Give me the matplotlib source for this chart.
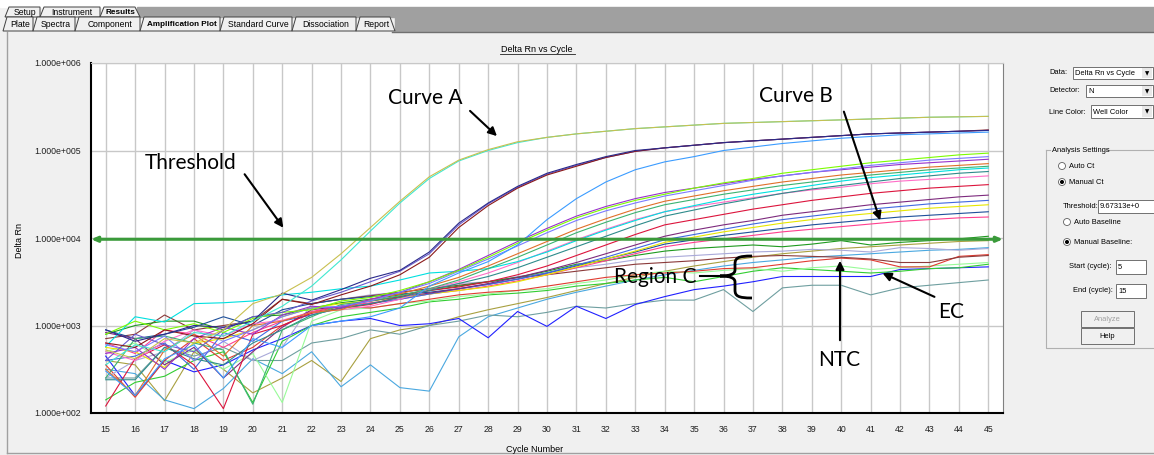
import numpy as np
import matplotlib.pyplot as plt
from matplotlib.patches import Rectangle, Polygon, PathPatch, Ellipse, FancyArrowPatch
from matplotlib.path import Path
from matplotlib.ticker import FixedLocator, FuncFormatter, NullLocator

W, H = 1154, 455

cycles = list(range(15, 46))
threshold = 9.67313e3

# log10(Delta Rn) per well, cycles 15..45
curve_a1 = [2.72, 2.62, 2.85, 2.80, 2.95, 3.25, 3.36, 3.55, 3.82, 4.12, 4.42, 4.70, 4.89, 5.01, 5.10, 5.15,
            5.19, 5.22, 5.25, 5.27, 5.29, 5.31, 5.32, 5.33, 5.34, 5.35, 5.36, 5.37, 5.38, 5.385, 5.39]
curve_a2 = [2.55, 2.78, 2.70, 2.92, 2.88, 3.05, 3.22, 3.45, 3.75, 4.08, 4.40, 4.68, 4.88, 5.00, 5.09, 5.15,
            5.19, 5.22, 5.25, 5.27, 5.29, 5.31, 5.32, 5.33, 5.34, 5.35, 5.36, 5.37, 5.38, 5.385, 5.39]
high_1 = [2.95, 2.82, 2.90, 3.00, 2.98, 3.05, 3.37, 3.29, 3.41, 3.54, 3.63, 3.84, 4.17, 4.40, 4.59, 4.74,
          4.84, 4.93, 5.00, 5.03, 5.06, 5.09, 5.11, 5.13, 5.15, 5.17, 5.19, 5.20, 5.21, 5.22, 5.23]
high_2 = [2.80, 2.75, 2.95, 2.88, 2.85, 3.02, 3.30, 3.24, 3.35, 3.45, 3.58, 3.78, 4.12, 4.37, 4.57, 4.72,
          4.82, 4.92, 4.99, 5.03, 5.06, 5.09, 5.11, 5.13, 5.15, 5.17, 5.19, 5.20, 5.21, 5.22, 5.235]
high_3 = [2.60, 2.90, 2.78, 2.70, 2.95, 3.10, 3.15, 3.28, 3.38, 3.50, 3.62, 3.82, 4.15, 4.39, 4.58, 4.73,
          4.83, 4.92, 4.99, 5.03, 5.06, 5.09, 5.11, 5.13, 5.15, 5.17, 5.19, 5.20, 5.21, 5.22, 5.23]
high_4 = [2.48, 2.20, 2.62, 2.78, 2.40, 2.85, 2.75, 3.00, 3.05, 3.10, 3.20, 3.45, 3.60, 3.73, 3.92, 4.21,
          4.45, 4.64, 4.78, 4.87, 4.93, 5.00, 5.04, 5.08, 5.11, 5.14, 5.16, 5.18, 5.19, 5.20, 5.21]

mid_1 = [2.90, 3.05, 2.95, 3.02, 2.92, 3.08, 3.15, 3.18, 3.28, 3.32, 3.40, 3.50, 3.63, 3.78, 3.94, 4.09,
         4.23, 4.34, 4.43, 4.50, 4.57, 4.63, 4.68, 4.74, 4.78, 4.82, 4.86, 4.89, 4.92, 4.95, 4.97]
mid_2 = [2.78, 2.70, 2.88, 2.60, 2.82, 2.95, 3.10, 3.20, 3.22, 3.28, 3.38, 3.48, 3.62, 3.76, 3.91, 4.06,
         4.20, 4.31, 4.40, 4.48, 4.54, 4.60, 4.66, 4.71, 4.75, 4.79, 4.83, 4.86, 4.89, 4.91, 4.93]
mid_3 = [2.68, 2.75, 2.50, 2.85, 2.98, 2.90, 3.12, 3.22, 3.20, 3.30, 3.38, 3.50, 3.64, 3.80, 3.96, 4.11,
         4.25, 4.36, 4.45, 4.52, 4.57, 4.62, 4.67, 4.71, 4.75, 4.78, 4.81, 4.84, 4.86, 4.88, 4.90]
mid_4 = [2.50, 2.20, 2.72, 2.90, 2.65, 3.00, 3.05, 3.15, 3.18, 3.30, 3.36, 3.45, 3.55, 3.68, 3.82, 3.96,
         4.10, 4.22, 4.33, 4.42, 4.48, 4.54, 4.59, 4.64, 4.68, 4.72, 4.75, 4.78, 4.81, 4.83, 4.85]
mid_5 = [2.40, 2.85, 2.88, 2.80, 2.72, 2.10, 2.95, 3.10, 3.24, 3.28, 3.34, 3.42, 3.52, 3.65, 3.78, 3.92,
         4.06, 4.18, 4.29, 4.38, 4.44, 4.50, 4.55, 4.60, 4.64, 4.68, 4.72, 4.75, 4.78, 4.80, 4.82]
mid_6 = [2.76, 3.10, 3.04, 3.25, 3.26, 3.28, 3.35, 3.38, 3.42, 3.45, 3.52, 3.60, 3.62, 3.65, 3.73, 3.84,
         3.97, 4.09, 4.20, 4.30, 4.37, 4.44, 4.50, 4.55, 4.60, 4.65, 4.69, 4.72, 4.75, 4.78, 4.80]
mid_7 = [2.38, 2.38, 2.75, 2.62, 2.55, 2.80, 2.95, 3.12, 3.20, 3.25, 3.32, 3.40, 3.48, 3.56, 3.66, 3.78,
         3.90, 4.02, 4.14, 4.25, 4.32, 4.39, 4.45, 4.51, 4.56, 4.60, 4.64, 4.68, 4.71, 4.74, 4.76]
mid_8 = [2.70, 2.60, 2.82, 2.95, 2.88, 3.02, 3.06, 3.15, 3.18, 3.22, 3.30, 3.42, 3.50, 3.60, 3.72, 3.85,
         3.98, 4.10, 4.21, 4.30, 4.36, 4.41, 4.46, 4.51, 4.55, 4.58, 4.62, 4.65, 4.67, 4.69, 4.71]
mid_9 = [2.08, 2.62, 2.78, 2.55, 2.05, 2.90, 3.00, 3.14, 3.20, 3.24, 3.33, 3.40, 3.44, 3.50, 3.58, 3.68,
         3.80, 3.92, 4.04, 4.15, 4.21, 4.27, 4.33, 4.38, 4.43, 4.47, 4.51, 4.54, 4.57, 4.59, 4.61]
mid_10 = [2.92, 2.85, 2.55, 2.75, 2.40, 2.70, 2.98, 3.18, 3.22, 3.28, 3.33, 3.37, 3.42, 3.48, 3.55, 3.63,
          3.72, 3.82, 3.92, 4.02, 4.09, 4.15, 4.20, 4.26, 4.30, 4.34, 4.38, 4.41, 4.44, 4.47, 4.49]
mid_11 = [2.60, 2.65, 2.80, 2.50, 2.92, 2.82, 3.05, 3.12, 3.20, 3.25, 3.30, 3.36, 3.42, 3.47, 3.53, 3.60,
          3.69, 3.78, 3.88, 3.98, 4.04, 4.10, 4.16, 4.21, 4.25, 4.29, 4.33, 4.36, 4.39, 4.41, 4.43]
mid_12 = [2.75, 2.70, 2.52, 2.80, 2.85, 2.95, 3.10, 3.20, 3.25, 3.28, 3.32, 3.36, 3.40, 3.44, 3.50, 3.58,
          3.67, 3.76, 3.85, 3.95, 4.01, 4.07, 4.12, 4.17, 4.21, 4.25, 4.28, 4.31, 4.34, 4.36, 4.38]
mid_13 = [2.95, 2.85, 2.90, 2.98, 3.10, 3.00, 3.18, 3.25, 3.30, 3.33, 3.36, 3.38, 3.42, 3.47, 3.53, 3.60,
          3.68, 3.76, 3.84, 3.93, 3.98, 4.03, 4.07, 4.11, 4.15, 4.18, 4.21, 4.24, 4.26, 4.28, 4.30]
curve_b = [2.80, 2.68, 2.95, 2.90, 2.75, 2.92, 3.05, 3.16, 3.22, 3.26, 3.30, 3.36, 3.40, 3.45, 3.51, 3.58,
           3.66, 3.74, 3.82, 3.90, 3.95, 3.99, 4.03, 4.07, 4.10, 4.13, 4.16, 4.19, 4.21, 4.23, 4.24]

low_1 = [2.90, 3.00, 3.05, 3.05, 2.95, 3.10, 3.12, 3.20, 3.26, 3.30, 3.35, 3.40, 3.45, 3.50, 3.55, 3.62,
         3.70, 3.74, 3.80, 3.85, 3.88, 3.90, 3.92, 3.90, 3.93, 3.97, 3.92, 3.95, 3.97, 3.99, 4.02]
ntc = [2.85, 2.90, 3.12, 2.95, 3.00, 3.05, 3.30, 3.25, 3.30, 3.34, 3.38, 3.42, 3.46, 3.50, 3.55, 3.58,
       3.62, 3.66, 3.70, 3.72, 3.74, 3.77, 3.79, 3.80, 3.79, 3.78, 3.76, 3.72, 3.72, 3.78, 3.80]
low_2 = [2.40, 2.60, 2.70, 2.95, 2.82, 2.60, 2.75, 3.25, 3.30, 3.35, 3.38, 3.42, 3.48, 3.50, 3.56, 3.60,
         3.66, 3.70, 3.75, 3.78, 3.80, 3.82, 3.84, 3.85, 3.87, 3.86, 3.84, 3.89, 3.88, 3.86, 3.88]
low_3 = [2.55, 2.18, 2.60, 2.85, 2.60, 2.75, 3.00, 3.15, 3.22, 3.20, 3.25, 3.30, 3.35, 3.38, 3.40, 3.45,
         3.50, 3.55, 3.58, 3.60, 3.62, 3.65, 3.66, 3.70, 3.74, 3.77, 3.75, 3.67, 3.67, 3.79, 3.81]
low_4 = [2.70, 2.80, 2.58, 2.72, 2.50, 2.68, 2.12, 3.05, 3.18, 3.20, 3.25, 3.28, 3.33, 3.36, 3.40, 3.42,
         3.48, 3.52, 3.58, 3.62, 3.60, 3.63, 3.65, 3.62, 3.66, 3.68, 3.64, 3.66, 3.68, 3.70, 3.72]
ec = [2.15, 2.35, 2.42, 2.60, 2.70, 2.12, 2.82, 3.00, 3.10, 3.15, 3.20, 3.27, 3.30, 3.35, 3.37, 3.40,
      3.45, 3.48, 3.52, 3.55, 3.50, 3.56, 3.62, 3.66, 3.64, 3.62, 3.60, 3.62, 3.65, 3.66, 3.70]
low_5 = [2.65, 2.20, 2.60, 2.47, 2.55, 2.72, 2.85, 3.00, 3.05, 3.08, 3.00, 3.02, 3.08, 2.86, 3.16, 2.99,
         3.22, 3.08, 3.24, 3.33, 3.41, 3.45, 3.50, 3.56, 3.56, 3.56, 3.56, 3.64, 3.65, 3.66, 3.67]
low_6 = [2.40, 2.40, 2.75, 2.65, 2.75, 2.60, 2.60, 2.80, 2.85, 2.95, 2.90, 3.00, 3.05, 3.12, 3.10, 3.15,
         3.22, 3.20, 3.25, 3.29, 3.29, 3.41, 3.16, 3.43, 3.46, 3.46, 3.35, 3.43, 3.46, 3.49, 3.52]
low_7 = [2.50, 2.45, 2.15, 2.05, 2.28, 2.62, 2.45, 2.70, 2.30, 2.55, 2.29, 2.25, 2.87, 3.10, 3.20, 3.30,
         3.38, 3.45, 3.52, 3.58, 3.63, 3.68, 3.72, 3.75, 3.78, 3.80, 3.82, 3.84, 3.86, 3.87, 3.89]
low_8 = [2.60, 2.55, 2.14, 2.70, 2.50, 2.23, 2.40, 2.60, 2.36, 2.85, 2.95, 3.00, 3.10, 3.18, 3.25, 3.32,
         3.40, 3.48, 3.55, 3.62, 3.68, 3.73, 3.78, 3.82, 3.85, 3.88, 3.90, 3.92, 3.94, 3.96, 3.97]

wells = [
    (low_8, '#a8a040'), (low_7, '#4aa8e0'), (low_6, '#6f9fa0'), (low_5, '#2020ff'),
    (ec, '#32cd32'), (low_4, '#98fb98'), (low_3, '#e03c31'), (low_2, '#a9a9d9'),
    (ntc, '#8b3a3a'), (low_1, '#1f9a1f'),
    (curve_b, '#ff3f8f'), (mid_13, '#1e4f9a'), (mid_12, '#e6e600'), (mid_11, '#4169e1'),
    (mid_10, '#7d2a7d'), (mid_9, '#dc143c'), (mid_8, '#ff6ec7'), (mid_7, '#2e8b8b'),
    (mid_6, '#00e0e0'), (mid_5, '#3cb371'), (mid_4, '#e0702a'), (mid_3, '#9932cc'),
    (mid_2, '#7b7bff'), (mid_1, '#7cfc00'),
    (high_4, '#3b9cff'), (high_3, '#6a5acd'), (high_2, '#8b1a1a'), (high_1, '#2a2a8a'),
    (curve_a2, '#40e8d0'), (curve_a1, '#c8c050'),
]


def fx(x):
    return x / W


def fy(y):
    return 1 - y / H


ui = 'Liberation Sans'
note = 'Lato'
side = 5.4

fig = plt.figure(figsize=(W / 100, H / 100), dpi=100, facecolor='#f0f0f0')

# tab strip
fig.patches.append(Rectangle((0, fy(7)), 1, 7 / H, transform=fig.transFigure, color='white', zorder=0))
fig.patches.append(Rectangle((fx(137), fy(17)), 1, 10 / H, transform=fig.transFigure,
                             color='#a0a0a0', zorder=1))
fig.patches.append(Rectangle((fx(395), fy(31)), 1, 14 / H, transform=fig.transFigure,
                             color='#a0a0a0', zorder=1))
tabs_top = [('Setup', 5, 40, False), ('Instrument', 40, 100, False), ('Results', 100, 137, True)]
tabs_bottom = [('Plate', 3, 33, False), ('Spectra', 33, 75, False), ('Component', 75, 140, False),
               ('Amplification Plot', 140, 220, True), ('Standard Curve', 220, 292, False),
               ('Dissociation', 292, 356, False), ('Report', 356, 392, False)]
for row, (y0, y1) in [(tabs_top, (7, 17)), (tabs_bottom, (17, 31))]:
    for i, (lab, x0, x1, bold) in enumerate(row):
        pts = [(x0, y1), (x0 + 4, y0), (x1, y0), (x1, y1)]
        if i == len(row) - 1:
            pts = [(x0, y1), (x0 + 4, y0), (x1 - 2, y0), (x1 + 3, y1)]
        poly = Polygon([(fx(a), fy(b)) for a, b in pts], closed=True, transform=fig.transFigure,
                       facecolor='#f0f0f0', edgecolor='#404040', lw=0.7, zorder=2)
        fig.patches.append(poly)
        fig.text(fx((x0 + x1) / 2 + 2), fy((y0 + y1) / 2 + 0.5), lab, ha='center', va='center',
                 fontsize=5.9 if bold else 6.2, family=ui, fontweight='bold' if bold else 'normal',
                 zorder=3)

# panel frame
fig.add_artist(plt.Line2D([fx(7), fx(7)], [fy(32), fy(453)], color='#a0a0a0', lw=1))
fig.add_artist(plt.Line2D([fx(7), 1], [fy(453), fy(453)], color='#a0a0a0', lw=1))
fig.add_artist(plt.Line2D([fx(392), 1], [fy(32), fy(32)], color='#707070', lw=1))

# plot
ax = fig.add_axes([fx(91), fy(413), (1003 - 91) / W, (413 - 63) / H])
ax.set_facecolor('white')
for vals, col in wells:
    ax.plot(cycles, [10 ** v for v in vals], color=col, lw=0.8)

ax.set_yscale('log')
ax.set_xlim(14.5, 45.5)
ax.set_ylim(1e2, 1e6)
ax.xaxis.set_major_locator(FixedLocator(cycles))
ax.yaxis.set_major_locator(FixedLocator([1e2, 1e3, 1e4, 1e5, 1e6]))
ax.yaxis.set_minor_locator(NullLocator())


def sci(v, pos):
    e = int(round(np.log10(v)))
    return '%.3fe+%03d' % (v / 10 ** e, e)


ax.yaxis.set_major_formatter(FuncFormatter(sci))
ax.grid(True, color='#c8c8c8', lw=1)
ax.set_axisbelow(True)
ax.tick_params(length=0, labelsize=6.3, colors='#202020', pad=7)
ax.tick_params(axis='x', pad=9)
for lab in ax.get_xticklabels() + ax.get_yticklabels():
    lab.set_family(ui)
ax.spines['left'].set_linewidth(1.5)
ax.spines['bottom'].set_linewidth(1.5)
ax.spines['top'].set_color('#c8c8c8')
ax.spines['right'].set_color('#808080')

ax.annotate('', xy=(1.0, threshold), xytext=(0.0, threshold), xycoords=('axes fraction', 'data'),
            arrowprops=dict(arrowstyle='<|-|>,head_length=0.35,head_width=0.15', color='#3a9a3a',
                            lw=2.2, shrinkA=0, shrinkB=0), zorder=5)

fig.text(fx(537), fy(52), 'Delta Rn vs Cycle', ha='center', va='baseline', fontsize=6.5, family=ui)
fig.add_artist(plt.Line2D([fx(500), fx(575)], [fy(54), fy(54)], color='#202020', lw=0.6))
fig.text(fx(20), fy(240), 'Delta Rn', rotation=90, ha='center', va='center', fontsize=6.5, family=ui)
fig.text(fx(535), fy(449), 'Cycle Number', ha='center', va='center', fontsize=6.5, family=ui)

# annotations
notes = [('Threshold', 191, 169), ('Curve A', 425, 104), ('Curve B', 796, 102),
         ('Region C', 655, 283), ('NTC', 839, 366), ('EC', 951, 318)]
for s, x, y in notes:
    fig.text(fx(x), fy(y), s, ha='center', va='baseline', fontsize=15, family=note, zorder=10)

arrows = [((243, 172), (285, 230)), ((468, 109), (499, 138)), ((843, 109), (881, 223)),
          ((840, 343), (840, 258)), ((937, 298), (880, 272))]
for (xa, ya), (xb, yb) in arrows:
    fig.add_artist(FancyArrowPatch(
        (fx(xa), fy(ya)), (fx(xb), fy(yb)), transform=fig.transFigure,
        arrowstyle='-|>,head_length=5,head_width=2.5', color='black', lw=1.5, zorder=10))

fig.add_artist(plt.Line2D([fx(700), fx(720)], [fy(276), fy(276)], color='black', lw=1.5, zorder=10))
brace = [(752, 256), (738, 256), (735, 258), (735, 264), (735, 270), (735, 274), (730, 276), (720, 276),
         (730, 276), (735, 278), (735, 282), (735, 290), (735, 296), (738, 298), (752, 298)]
codes = [Path.MOVETO, Path.CURVE4, Path.CURVE4, Path.CURVE4, Path.LINETO, Path.CURVE4, Path.CURVE4,
         Path.CURVE4, Path.CURVE4, Path.CURVE4, Path.CURVE4, Path.LINETO, Path.CURVE4, Path.CURVE4,
         Path.CURVE4]
fig.patches.append(PathPatch(Path([(fx(a), fy(b)) for a, b in brace], codes), transform=fig.transFigure,
                             facecolor='none', edgecolor='black', lw=2, zorder=10))

# side panel


def box(x0, y0, x1, y1, text='', arrow=False, fc='white', tc='black', ha='left'):
    fig.patches.append(Rectangle((fx(x0), fy(y1)), (x1 - x0) / W, (y1 - y0) / H,
                                 transform=fig.transFigure, facecolor=fc, edgecolor='#707070', lw=0.7))
    if text:
        tx = x0 + 2 if ha == 'left' else (x0 + x1) / 2
        fig.text(fx(tx), fy((y0 + y1) / 2 + 0.5), text, ha=ha, va='center', fontsize=side, family=ui,
                 color=tc)
    if arrow:
        fig.patches.append(Rectangle((fx(x1 - 11), fy(y1 - 1)), 10 / W, (y1 - y0 - 2) / H,
                                     transform=fig.transFigure, facecolor='#e8e8e8', edgecolor='none'))
        fig.text(fx(x1 - 6), fy((y0 + y1) / 2 + 0.5), '\u25bc', ha='center', va='center', fontsize=4,
                 family='DejaVu Sans')


fig.text(fx(1049), fy(73), 'Data:', va='center', fontsize=side, family=ui)
box(1073, 67, 1153, 79, 'Delta Rn vs Cycle', arrow=True)
fig.text(fx(1049), fy(91), 'Detector:', va='center', fontsize=side, family=ui)
box(1086, 85, 1153, 97, 'N', arrow=True)
fig.text(fx(1049), fy(112), 'Line Color:', va='center', fontsize=side, family=ui)
box(1091, 105, 1153, 118, 'Well Color', arrow=True)

fig.add_artist(plt.Line2D([fx(1046), fx(1046), 1], [fy(150), fy(348), fy(348)], color='#b0b0b0', lw=0.8))
fig.add_artist(plt.Line2D([fx(1046), fx(1050)], [fy(150), fy(150)], color='#b0b0b0', lw=0.8))
fig.add_artist(plt.Line2D([fx(1106), 1], [fy(150), fy(150)], color='#b0b0b0', lw=0.8))
fig.text(fx(1052), fy(150), 'Analysis Settings', va='center', fontsize=side, family=ui)

radios = [('Auto Ct', 1062, 166, False), ('Manual Ct', 1062, 182, True),
          ('Auto Baseline', 1067, 222, False), ('Manual Baseline:', 1067, 242, True)]
for lab, x, y, on in radios:
    fig.add_artist(Ellipse((fx(x), fy(y)), 7 / W, 7 / H, transform=fig.transFigure, facecolor='white',
                           edgecolor='#606060', lw=0.6))
    if on:
        fig.add_artist(Ellipse((fx(x), fy(y)), 2.6 / W, 2.6 / H, transform=fig.transFigure, color='black'))
    fig.text(fx(x + 7), fy(y), lab, va='center', fontsize=side, family=ui)

fig.text(fx(1063), fy(207), 'Threshold:', va='center', fontsize=side, family=ui)
box(1098, 200, 1156, 213, '9.67313e+0')
fig.text(fx(1069), fy(267), 'Start (cycle):', va='center', fontsize=side, family=ui)
box(1116, 260, 1146, 274, '5')
fig.text(fx(1073), fy(291), 'End (cycle):', va='center', fontsize=side, family=ui)
box(1116, 284, 1146, 298, '15')
box(1081, 311, 1134, 327, 'Analyze', fc='#f0f0f0', tc='#a0a0a0', ha='center')
box(1081, 328, 1134, 344, 'Help', fc='#f0f0f0', ha='center')

fig.savefig('out.png', dpi=100, facecolor=fig.get_facecolor())
